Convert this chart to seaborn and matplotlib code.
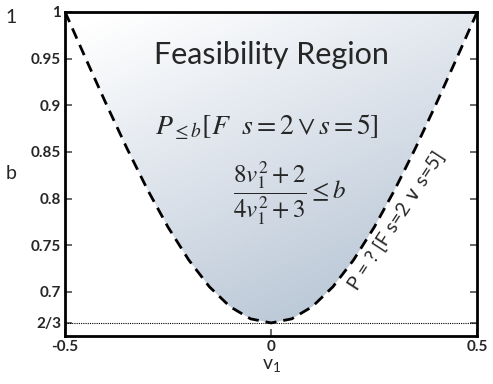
import numpy as np
import pandas as pd
import matplotlib
matplotlib.use("Agg")
import matplotlib.pyplot as plt
import seaborn as sns

# Boundary of the feasibility region
v1 = [-0.5, -0.45, -0.4, -0.35, -0.3, -0.25, -0.2, -0.15, -0.1, -0.05, 0.0,
      0.05, 0.1, 0.15, 0.2, 0.25, 0.3, 0.35, 0.4, 0.45, 0.5]
b = [1.0, 0.9501, 0.9011, 0.8539, 0.8095, 0.7692, 0.7342, 0.7055, 0.6842, 0.6711, 0.6667,
     0.6711, 0.6842, 0.7055, 0.7342, 0.7692, 0.8095, 0.8539, 0.9011, 0.9501, 1.0]

x_ticks = [-0.5, 0, 0.5]
x_tick_labels = ["-0.5", "0", "0.5"]
y_ticks = [2 / 3, 0.7, 0.75, 0.8, 0.85, 0.9, 0.95, 1.0]
y_tick_labels = ["2/3", "0.7", "0.75", "0.8", "0.85", "0.9", "0.95", "1"]
b_min = 2 / 3

df = pd.DataFrame({"v1": v1, "b": b})

sns.set_theme(style="ticks")
plt.rcParams["font.family"] = ["Lato", "DejaVu Sans"]

fig = plt.figure(figsize=(4.93, 3.84), dpi=100)
ax = fig.add_axes([0.132, 0.125, 0.836, 0.844])
ax.set_xlim(-0.5, 0.5)
ax.set_ylim(0.6527, 1.0)

# gradient fill above the curve (light top-left, darker bottom-right)
poly = ax.fill_between(df["v1"], df["b"], 1.0, color="none", lw=0)
gx, gy = np.meshgrid(np.linspace(0, 1, 200), np.linspace(0, 1, 200))
shade = np.clip(0.75 * (1 - gy) + 0.4 * gx - 0.05, 0, 1)
cmap = matplotlib.colors.LinearSegmentedColormap.from_list(
    "feas", ["#ffffff", "#d9e0e9", "#b3c2d2"])
img = ax.imshow(shade, extent=(-0.5, 0.5, 0.6527, 1.0), origin="lower",
                aspect="auto", cmap=cmap, vmin=0, vmax=1, zorder=1)
img.set_clip_path(poly.get_paths()[0], transform=ax.transData)

sns.lineplot(data=df, x="v1", y="b", ax=ax, color="black", lw=2,
             linestyle=(0, (4, 2.5)), zorder=3)
ax.axhline(b_min, color="black", lw=0.8, linestyle=(0, (1, 1)), zorder=2)

ax.set_xticks(x_ticks)
ax.set_xticklabels(x_tick_labels, fontweight="bold", fontsize=11)
ax.set_yticks(y_ticks)
ax.set_yticklabels(y_tick_labels, fontweight="bold", fontsize=11)
ax.tick_params(axis="both", direction="in", length=5, color="#555555", pad=3)
ax.tick_params(axis="y", right=True)
for s in ax.spines.values():
    s.set_linewidth(2)
    s.set_color("black")

ax.set_xlabel(r"$\mathregular{v_1}$", fontsize=14, labelpad=2)
ax.set_ylabel("b", fontsize=14, rotation=0, labelpad=14, va="center")
fig.text(0.012, 0.94, "1", fontsize=14)

ax.text(0.0, 0.954, "Feasibility Region", ha="center", va="center",
        fontsize=22, zorder=4)
ax.text(-0.01, 0.876, r"$P_{\leq b}[F\ \ s=2 \vee s=5]$", ha="center", va="center",
        fontsize=20, math_fontfamily="stix", zorder=4)
ax.text(0.045, 0.806, r"$\dfrac{8v_1^2+2}{4v_1^2+3} \leq b$", ha="center", va="center",
        fontsize=18, math_fontfamily="stix", zorder=4)
ax.text(0.305, 0.776, "P = ? [F s=2 \u2228 s=5]", ha="center", va="center",
        rotation=57, fontsize=14, family=["Lato", "DejaVu Sans"], zorder=4)

fig.savefig("out.png", dpi=100)
